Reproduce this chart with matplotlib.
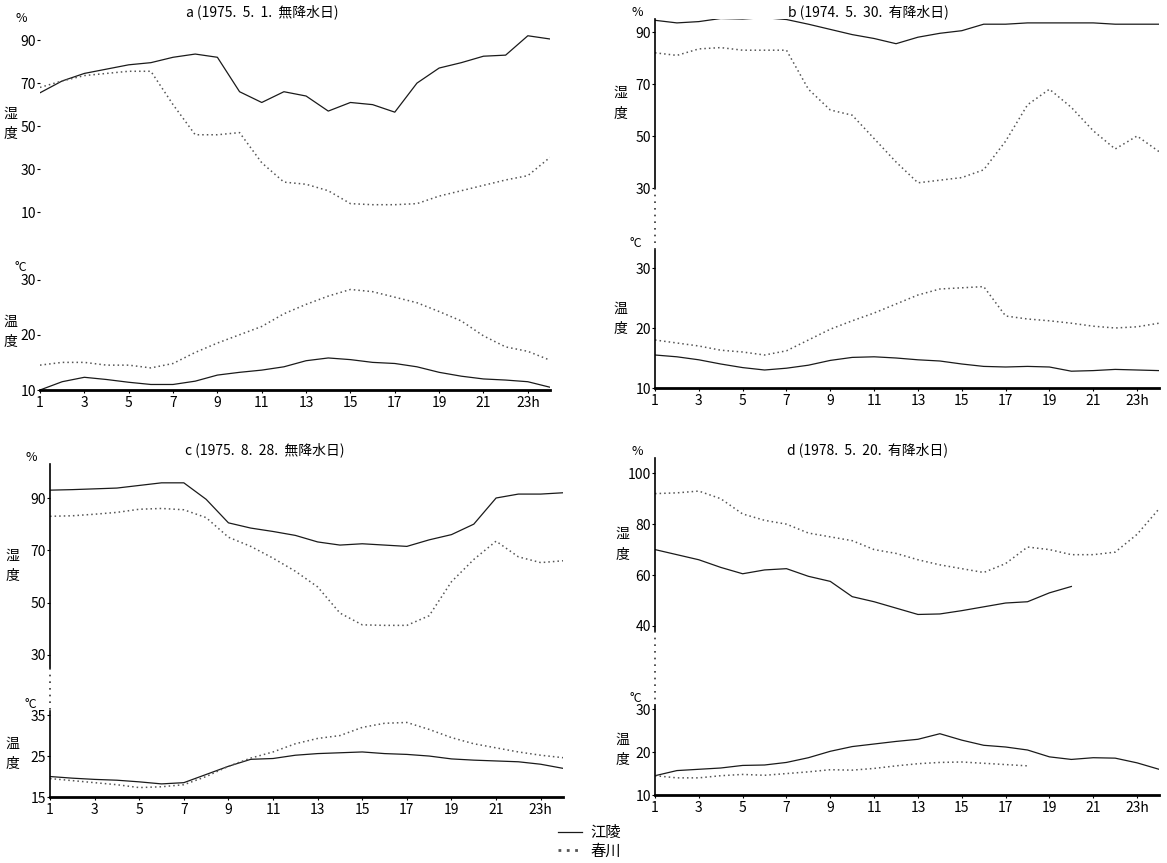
import numpy as np
import matplotlib
matplotlib.use('Agg')
import matplotlib.pyplot as plt
from matplotlib.lines import Line2D

plt.rcParams['font.family'] = ['Noto Sans CJK JP', 'DejaVu Sans']

nan = np.nan
hours = list(range(1, 25))
xticks = [1, 3, 5, 7, 9, 11, 13, 15, 17, 19, 21, 23]
xticklabels = ['1', '3', '5', '7', '9', '11', '13', '15', '17', '19', '21', '23h']
stations = ['江陵', '春川']

titles = ['a (1975.  5.  1.  無降水日)', 'b (1974.  5.  30.  有降水日)',
          'c (1975.  8.  28.  無降水日)', 'd (1978.  5.  20.  有降水日)']

# a: 1975.5.1
a_hum_gn = [65.5, 71, 74.5, 76.5, 78.5, 79.5, 82, 83.5, 82, 66, 61, 66,
            64, 57, 61, 60, 56.5, 70, 77, 79.5, 82.5, 83, 92, 90.5]
a_hum_cc = [68, 71, 73.5, 74.5, 75.5, 75.5, 60, 46, 46, 47, 33, 24,
            23, 20, 14, 13.5, 13.5, 14, 17.5, 20, 22.5, 25, 27, 35.5]
a_tmp_gn = [10, 11.5, 12.3, 11.9, 11.4, 11, 11, 11.6, 12.7, 13.2, 13.6, 14.2,
            15.3, 15.8, 15.5, 15, 14.8, 14.2, 13.2, 12.5, 12, 11.8, 11.5, 10.5]
a_tmp_cc = [14.5, 15, 15, 14.5, 14.5, 14, 14.8, 16.8, 18.5, 20, 21.5, 23.8,
            25.5, 27, 28.2, 27.8, 26.8, 25.8, 24.2, 22.5, 19.8, 17.8, 17, 15.4]

# b: 1974.5.30
b_hum_gn = [94.5, 93.5, 94, 95.2, 95, 95.5, 94.8, 93, 91, 89, 87.5, 85.5,
            88, 89.5, 90.5, 93, 93, 93.5, 93.5, 93.5, 93.5, 93, 93, 93]
b_hum_cc = [82, 81, 83.5, 84, 83, 83, 83, 68, 60, 58, 49, 40,
            32, 33, 34, 37, 48, 62, 68, 61, 52, 45, 50, 44]
b_tmp_gn = [15.5, 15.2, 14.7, 14, 13.4, 13, 13.3, 13.8, 14.6, 15.1, 15.2, 15,
            14.7, 14.5, 14, 13.6, 13.5, 13.6, 13.5, 12.8, 12.9, 13.1, 13, 12.9]
b_tmp_cc = [18, 17.5, 17, 16.3, 16, 15.5, 16.2, 18, 19.8, 21.2, 22.5, 24,
            25.5, 26.5, 26.7, 26.9, 22, 21.5, 21.2, 20.8, 20.3, 20, 20.2, 20.8]

# c: 1975.8.28
c_hum_gn = [93, 93.2, 93.5, 93.8, 94.8, 95.8, 95.8, 89.5, 80.5, 78.5, 77.2, 75.7,
            73.2, 72, 72.5, 72, 71.5, 74, 76, 80, 90, 91.5, 91.5, 92]
c_hum_cc = [83, 83.2, 83.8, 84.5, 85.7, 86, 85.5, 82.5, 75, 71.5, 67, 62,
            56, 46, 41.5, 41.3, 41.3, 45, 58, 66.5, 73.5, 67.5, 65.3, 66]
c_tmp_gn = [20, 19.6, 19.3, 19.1, 18.7, 18.2, 18.5, 20.5, 22.5, 24.2, 24.4, 25.2,
            25.6, 25.8, 26, 25.6, 25.4, 25, 24.3, 24, 23.8, 23.6, 23, 22]
c_tmp_cc = [19.5, 19, 18.5, 18, 17.3, 17.5, 18, 20, 22.5, 24.5, 26, 28,
            29.3, 30, 32, 33, 33.2, 31.5, 29.5, 28, 27, 26, 25.2, 24.6]

# d: 1978.5.20
d_hum_gn = [70, 68, 66, 63, 60.5, 62, 62.5, 59.5, 57.5, 51.5, 49.5, 47,
            44.5, 44.7, 46, 47.5, 49, 49.5, 53, 55.5, nan, nan, nan, nan]
d_hum_cc = [92, 92.3, 93, 90, 84, 81.5, 80, 76.5, 75, 73.5, 70, 68.5,
            66, 64, 62.5, 61, 64.5, 71, 70, 68, 68, 69, 76, 86]
d_tmp_gn = [14.5, 15.7, 16, 16.3, 16.9, 17, 17.6, 18.7, 20.2, 21.3, 21.9, 22.5,
            23, 24.3, 22.8, 21.6, 21.2, 20.5, 18.9, 18.3, 18.7, 18.6, 17.5, 16]
d_tmp_cc = [14.5, 14, 14, 14.5, 14.8, 14.6, 15, 15.4, 15.9, 15.8, 16.2, 16.8,
            17.3, 17.6, 17.7, 17.4, 17.1, 16.8, nan, nan, nan, nan, nan, nan]

hum_ticks = [[10, 30, 50, 70, 90], [30, 50, 70, 90], [30, 50, 70, 90], [40, 60, 80, 100]]
hum_lims = [(5, 97), (30, 95), (25, 103), (38, 106)]
tmp_ticks = [[10, 20, 30], [10, 20, 30], [15, 25, 35], [10, 20, 30]]
tmp_lims = [(10, 31), (10, 33), (15, 36), (10, 31)]

hum = [(a_hum_gn, a_hum_cc), (b_hum_gn, b_hum_cc), (c_hum_gn, c_hum_cc), (d_hum_gn, d_hum_cc)]
tmp = [(a_tmp_gn, a_tmp_cc), (b_tmp_gn, b_tmp_cc), (c_tmp_gn, c_tmp_cc), (d_tmp_gn, d_tmp_cc)]

# layout in pixels: left, right, hum top, hum bottom, temp top, temp bottom,
# title x, title y, y-label x
layout = [
    (40, 550, 25, 223, 274, 390, 262, 12, 10),
    (655, 1159, 19, 188, 250, 388, 868, 12, 620),
    (50, 563, 464, 668, 711, 797, 265, 450, 12),
    (655, 1159, 458, 631, 705, 795, 868, 450, 622),
]

W, H = 1167, 863
fig = plt.figure(figsize=(W / 100, H / 100), dpi=100)


def add_ax(l, r, t, b):
    return fig.add_axes([l / W, 1 - b / H, (r - l) / W, (b - t) / H])


solid = dict(color='#1a1a1a', lw=0.9, ls='-')
dotted = dict(color='#555555', lw=1.1, ls=(0, (1, 2)))

for i in range(4):
    l, r, ht, hb, tt, tb, tx, ty, lx = layout[i]
    ah = add_ax(l, r, ht, hb)
    at = add_ax(l, r, tt, tb)

    ah.plot(hours, hum[i][0], **solid)
    ah.plot(hours, hum[i][1], **dotted)
    at.plot(hours, tmp[i][0], **solid)
    at.plot(hours, tmp[i][1], **dotted)

    for ax in (ah, at):
        ax.set_xlim(1, 24)
        ax.patch.set_alpha(0)
        for s in ('top', 'right'):
            ax.spines[s].set_visible(False)
        ax.tick_params(axis='y', direction='out', length=2, width=0.8,
                       labelsize=10, pad=1)
        if i == 0:
            ax.spines['left'].set_visible(False)
        else:
            ax.spines['left'].set_linewidth(1.2)

    ah.spines['bottom'].set_visible(False)
    ah.set_xticks([])
    ah.set_ylim(*hum_lims[i])
    ah.set_yticks(hum_ticks[i])

    at.set_ylim(*tmp_lims[i])
    at.set_yticks(tmp_ticks[i])
    at.spines['bottom'].set_linewidth(2)
    at.set_xticks(xticks)
    at.set_xticklabels(xticklabels)
    at.tick_params(axis='x', direction='out', length=2, labelsize=10, pad=2)

    # axis break between humidity and temperature
    if i > 0:
        fig.add_artist(Line2D([l / W, l / W], [1 - hb / H, 1 - tt / H],
                              color='#333333', lw=1.2, ls=(0, (1, 3))))

    ah.annotate('%', (0, 1), xycoords='axes fraction', xytext=(-9, 0),
                textcoords='offset points', fontsize=9, ha='right', va='bottom')
    at.annotate('°C', (0, 1), xycoords='axes fraction', xytext=(-9, 0),
                textcoords='offset points', fontsize=9, ha='right', va='bottom')
    fig.text(lx / W, 1 - (ht + hb) / 2 / H, '湿\n度', fontsize=10,
             ha='center', va='center', linespacing=1.6)
    fig.text(lx / W, 1 - (tt + tb) / 2 / H, '温\n度', fontsize=10,
             ha='center', va='center', linespacing=1.6)

    fig.text(tx / W, 1 - ty / H, titles[i], fontsize=10, ha='center', va='center')

handles = [Line2D([], [], **solid), Line2D([], [], **dotted)]
handles[1].set_linewidth(2)
fig.legend(handles, stations, loc='lower center', bbox_to_anchor=(0.505, -0.012),
           frameon=False, fontsize=11, handlelength=1.6, handletextpad=0.5,
           labelspacing=0.1)

fig.savefig('out.png', dpi=100)
